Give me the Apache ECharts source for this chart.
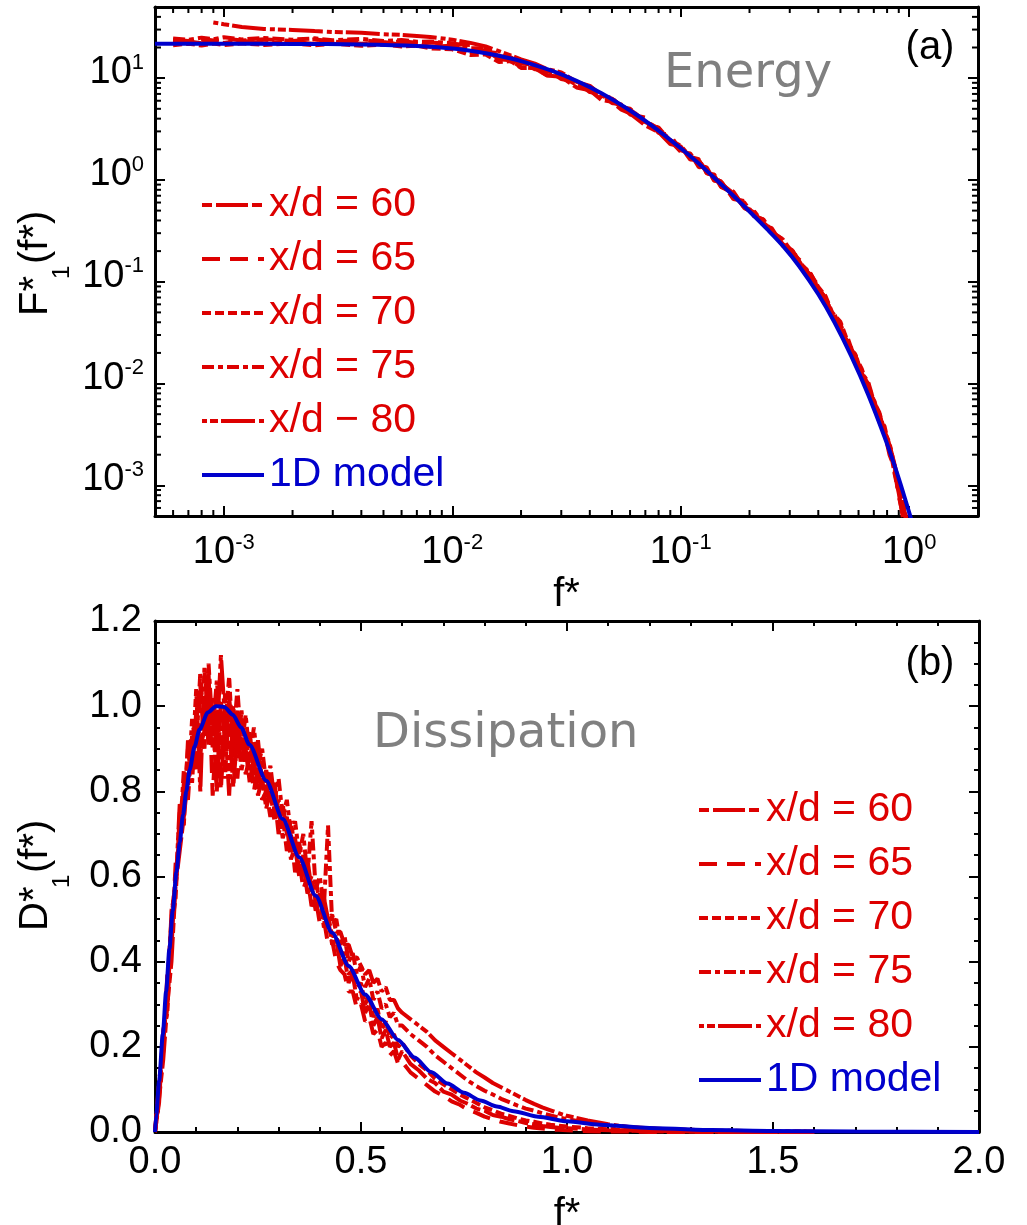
<!DOCTYPE html>
<html>
<head>
<meta charset="utf-8">
<script src="https://cdn.jsdelivr.net/npm/echarts@6/dist/echarts.min.js"></script>
<style>
  html, body { margin: 0; padding: 0; background: #fff; }
  #chart { width: 1027px; height: 1225px; }
</style>
</head>
<body>
<div id="chart"></div>
<script>
// ---------- data: (a) energy spectra, log-log ----------
const fTop = [6e-4, 7e-4, 8e-4, 9e-4, 1e-3, 1.2e-3, 1.5e-3, 2e-3, 2.5e-3, 3e-3, 4e-3, 5e-3, 6e-3, 7e-3, 8e-3,
  0.01, 0.012, 0.014, 0.016, 0.018, 0.02, 0.023, 0.026, 0.03, 0.035, 0.04, 0.045, 0.05, 0.055, 0.06, 0.07, 0.08, 0.09,
  0.1, 0.11, 0.12, 0.13, 0.14, 0.15, 0.17, 0.19, 0.21, 0.23, 0.25, 0.28, 0.31, 0.34, 0.37, 0.4, 0.43, 0.46, 0.5,
  0.54, 0.58, 0.62, 0.66, 0.7, 0.74, 0.78, 0.82, 0.86, 0.9, 0.94, 0.98];

const energy60 = [22.5, 22.9, 22.0, 23.1, 22.2, 23.3, 22.0, 22.8, 21.7, 22.9, 21.8, 22.7, 21.2, 21.8, 20.3,
  20.8, 17.9, 19.2, 15.3, 15.0, 12.8, 12.5, 10.6, 10.3, 8.1, 7.6, 6.1, 5.85, 4.9, 4.5, 3.43, 2.95, 2.25,
  2.13, 1.59, 1.57, 1.17, 1.11, 0.856, 0.77, 0.528, 0.475, 0.359, 0.336, 0.225, 0.2, 0.135, 0.118, 0.084, 0.0696, 0.0473, 0.0384,
  0.0235, 0.0192, 0.0121, 0.0101, 0.0065, 0.005, 0.0032, 0.0025, 0.00135, 0.00084, 0.00047, 0.00025];
const energy65 = [23.9, 23.2, 24.3, 23.5, 24.6, 23.4, 24.1, 23.2, 24.0, 23.0, 23.6, 22.5, 23.0, 22.2, 22.4,
  21.6, 21.1, 18.2, 17.5, 14.6, 14.6, 12.2, 12.1, 9.8, 9.2, 7.3, 7.0, 5.7, 5.5, 4.4, 4.1, 2.9, 2.75,
  1.95, 1.85, 1.33, 1.35, 1.01, 0.97, 0.65, 0.62, 0.44, 0.41, 0.306, 0.26, 0.186, 0.156, 0.11, 0.095, 0.0626, 0.054, 0.0347,
  0.0273, 0.0171, 0.0128, 0.0086, 0.0069, 0.0042, 0.0033, 0.002, 0.0015, 0.00078, 0.00051, 0.00031];
const energy70 = [21.0, 21.8, 20.9, 21.9, 21.1, 22.0, 21.2, 21.9, 21.0, 21.8, 20.8, 21.4, 20.5, 20.9, 19.6,
  19.2, 16.9, 17.1, 14.4, 14.7, 12.6, 12.6, 10.7, 10.5, 8.6, 8.1, 6.7, 6.4, 5.2, 5.0, 3.7, 3.26, 2.43,
  1.89, 1.82, 1.39, 1.33, 0.98, 0.96, 0.68, 0.6, 0.436, 0.41, 0.31, 0.26, 0.189, 0.146, 0.12, 0.089, 0.0725, 0.05, 0.0403,
  0.0252, 0.0188, 0.0139, 0.0092, 0.007, 0.0046, 0.0038, 0.0023, 0.00158, 0.001, 0.00068, 0.00043];
const energy75 = [24.5, 23.8, 25.0, 24.1, 25.2, 24.0, 24.8, 23.9, 24.6, 23.6, 24.3, 23.2, 23.7, 22.8, 22.9,
  22.0, 19.7, 19.6, 16.4, 16.1, 13.9, 13.6, 11.6, 11.1, 8.9, 8.3, 6.7, 6.3, 5.3, 4.9, 3.75, 3.22, 2.45,
  2.17, 1.68, 1.6, 1.16, 1.13, 0.92, 0.74, 0.54, 0.49, 0.38, 0.324, 0.234, 0.201, 0.143, 0.12, 0.087, 0.0684, 0.049, 0.0384,
  0.0246, 0.0195, 0.0126, 0.0105, 0.0067, 0.0052, 0.0034, 0.0026, 0.00158, 0.00095, 0.0006, 0.00031];
const energy80 = [null, null, null, 35.2, 33.9, 31.8, 30.4, 29.8, 29.0, 28.4, 27.9, 27.0, 26.6, 26.0, 25.4,
  23.9, 22.2, 20.5, 18.4, 16.7, 15.3, 13.9, 12.3, 11.4, 9.2, 8.4, 6.8, 6.2, 5.1, 4.8, 3.63, 3.1, 2.38,
  2.09, 1.63, 1.54, 1.18, 1.09, 0.86, 0.74, 0.53, 0.48, 0.37, 0.318, 0.23, 0.196, 0.138, 0.116, 0.086, 0.0696, 0.046, 0.0378,
  0.024, 0.0189, 0.0116, 0.0094, 0.0062, 0.005, 0.0034, 0.0025, 0.00165, 0.00106, 0.00068, 0.00037];

const fModelTop = [5e-4, 1e-3, 2e-3, 4e-3, 7e-3, 0.01, 0.013, 0.016, 0.02, 0.027, 0.035, 0.045, 0.06, 0.074,
  0.1, 0.12, 0.14, 0.17, 0.2, 0.24, 0.28, 0.33, 0.4, 0.47, 0.557, 0.66, 0.78, 0.86, 0.92, 1.0, 1.05];
const energyModel = [21.8, 21.75, 21.7, 21.4, 20.7, 19.6, 18.1, 16.6, 14.7, 11.9, 9.4, 7.1, 4.81, 3.48,
  2.05, 1.45, 1.05, 0.70, 0.49, 0.325, 0.225, 0.142, 0.0753, 0.0402, 0.0187, 0.00787, 0.00299, 0.0016, 0.001, 0.00054, 0.00037];

// minor tick positions of the log axes (2..9 of each decade)
const xMinorTop = [6e-4, 7e-4, 8e-4, 9e-4, 2e-3, 3e-3, 4e-3, 5e-3, 6e-3, 7e-3, 8e-3, 9e-3,
  0.02, 0.03, 0.04, 0.05, 0.06, 0.07, 0.08, 0.09, 0.2, 0.3, 0.4, 0.5, 0.6, 0.7, 0.8, 0.9];
const yMinorTop = [6e-4, 7e-4, 8e-4, 9e-4, 2e-3, 3e-3, 4e-3, 5e-3, 6e-3, 7e-3, 8e-3, 9e-3,
  0.02, 0.03, 0.04, 0.05, 0.06, 0.07, 0.08, 0.09, 0.2, 0.3, 0.4, 0.5, 0.6, 0.7, 0.8, 0.9,
  2, 3, 4, 5, 6, 7, 8, 9, 20, 30, 40];

// ---------- data: (b) dissipation spectra, linear ----------
const fBot = [0, 0.01, 0.02, 0.03, 0.04, 0.05, 0.06, 0.07, 0.08, 0.09,
  0.10, 0.11, 0.12, 0.13, 0.14, 0.15, 0.16, 0.17, 0.18, 0.19,
  0.20, 0.21, 0.22, 0.23, 0.24, 0.25, 0.26, 0.27, 0.28, 0.29,
  0.30, 0.31, 0.32, 0.33, 0.34, 0.35, 0.36, 0.37, 0.38, 0.39,
  0.40, 0.41, 0.42, 0.43, 0.44, 0.45, 0.46, 0.47, 0.48, 0.49,
  0.50, 0.51, 0.52, 0.53, 0.54, 0.55, 0.56, 0.57, 0.58, 0.59,
  0.60,
  0.62, 0.64, 0.66, 0.68, 0.70, 0.72, 0.74, 0.76, 0.78, 0.80,
  0.82, 0.84, 0.86, 0.88, 0.90, 0.92, 0.94, 0.96, 0.98, 1.00,
  1.05, 1.10, 1.15, 1.20, 1.25, 1.30, 1.35, 1.40, 1.45, 1.50, 1.55, 1.60];

const diss60 = [0, 0.08, 0.17, 0.30, 0.40, 0.58, 0.66, 0.74, 0.83, 0.86,
  0.95, 0.88, 1.02, 0.91, 0.98, 0.80, 1.01, 0.92, 0.96, 0.81,
  0.94, 0.85, 0.90, 0.82, 0.87, 0.79, 0.83, 0.76, 0.80, 0.73,
  0.76, 0.69, 0.72, 0.64, 0.67, 0.60, 0.63, 0.56, 0.58, 0.52,
  0.55, 0.48, 0.50, 0.44, 0.45, 0.39, 0.41, 0.35, 0.37, 0.31,
  0.33, 0.28, 0.30, 0.25, 0.27, 0.22, 0.24, 0.20, 0.21, 0.17,
  0.19,
  0.16, 0.145, 0.125, 0.115, 0.095, 0.088, 0.074, 0.066, 0.055, 0.05,
  0.04, 0.036, 0.03, 0.026, 0.021, 0.018, 0.014, 0.012, 0.01, 0.009,
  0.006, 0.004, 0.003, 0.002, 0.001, 0.001, 0, 0, 0, 0, 0, 0];
const diss65 = [0, 0.12, 0.20, 0.37, 0.43, 0.63, 0.68, 0.82, 0.78, 0.93,
  0.84, 1.05, 0.90, 1.08, 0.79, 0.97, 0.80, 1.03, 0.90, 0.93,
  0.83, 0.96, 0.84, 0.88, 0.80, 0.86, 0.78, 0.80, 0.74, 0.79,
  0.70, 0.74, 0.66, 0.70, 0.61, 0.64, 0.57, 0.60, 0.53, 0.55,
  0.49, 0.50, 0.44, 0.45, 0.40, 0.38, 0.37, 0.33, 0.33, 0.29,
  0.30, 0.26, 0.27, 0.23, 0.24, 0.20, 0.21, 0.18, 0.19, 0.16,
  0.165,
  0.14, 0.125, 0.11, 0.095, 0.085, 0.072, 0.064, 0.052, 0.045, 0.036,
  0.03, 0.024, 0.02, 0.016, 0.013, 0.01, 0.008, 0.006, 0.005, 0.004,
  0.002, 0.001, 0.001, 0, 0, 0, 0, 0, 0, 0, 0, 0];
const diss70 = [0, 0.09, 0.23, 0.31, 0.48, 0.55, 0.75, 0.76, 0.90, 0.82,
  0.99, 0.91, 0.94, 1.06, 0.90, 1.04, 0.82, 0.95, 1.07, 0.88,
  0.99, 0.87, 0.93, 0.85, 0.91, 0.83, 0.87, 0.79, 0.84, 0.75,
  0.78, 0.72, 0.74, 0.67, 0.69, 0.62, 0.65, 0.58, 0.60, 0.54,
  0.56, 0.50, 0.51, 0.46, 0.46, 0.42, 0.42, 0.37, 0.38, 0.34,
  0.35, 0.30, 0.32, 0.27, 0.29, 0.24, 0.26, 0.22, 0.23, 0.20,
  0.21,
  0.18, 0.16, 0.145, 0.125, 0.112, 0.10, 0.088, 0.078, 0.068, 0.058,
  0.051, 0.043, 0.038, 0.032, 0.027, 0.024, 0.02, 0.017, 0.015, 0.013,
  0.009, 0.006, 0.004, 0.003, 0.002, 0.001, 0.001, 0, 0, 0, 0, 0];
const diss75 = [0, 0.11, 0.19, 0.35, 0.50, 0.60, 0.69, 0.85, 0.80, 0.97,
  0.90, 1.08, 0.93, 1.10, 0.94, 1.06, 0.95, 0.83, 1.02, 0.92,
  1.04, 0.90, 0.98, 0.88, 0.95, 0.86, 0.90, 0.82, 0.86, 0.78,
  0.83, 0.74, 0.78, 0.70, 0.73, 0.65, 0.70, 0.60, 0.73, 0.57,
  0.60, 0.53, 0.72, 0.49, 0.50, 0.44, 0.46, 0.40, 0.42, 0.37,
  0.39, 0.34, 0.36, 0.31, 0.33, 0.29, 0.30, 0.27, 0.28, 0.25,
  0.25,
  0.23, 0.215, 0.2, 0.18, 0.165, 0.15, 0.135, 0.12, 0.108, 0.097,
  0.088, 0.078, 0.07, 0.062, 0.055, 0.05, 0.044, 0.039, 0.034, 0.03,
  0.022, 0.015, 0.011, 0.008, 0.006, 0.004, 0.003, 0.002, 0.002, 0.001, 0.001, 0];
const diss80 = [0, 0.07, 0.24, 0.28, 0.52, 0.57, 0.77, 0.72, 0.92, 0.86,
  1.04, 0.80, 1.09, 0.95, 1.02, 0.92, 1.12, 0.97, 0.79, 1.00,
  0.89, 0.99, 0.87, 0.94, 0.84, 0.92, 0.82, 0.85, 0.78, 0.82,
  0.74, 0.77, 0.70, 0.73, 0.66, 0.68, 0.62, 0.64, 0.57, 0.59,
  0.54, 0.55, 0.50, 0.51, 0.47, 0.47, 0.44, 0.44, 0.41, 0.41,
  0.39, 0.37, 0.38, 0.35, 0.36, 0.33, 0.34, 0.31, 0.31, 0.29,
  0.28,
  0.265, 0.25, 0.235, 0.215, 0.2, 0.185, 0.17, 0.155, 0.14, 0.128,
  0.115, 0.105, 0.095, 0.085, 0.075, 0.066, 0.058, 0.051, 0.044, 0.038,
  0.027, 0.018, 0.012, 0.009, 0.006, 0.005, 0.003, 0.003, 0.002, 0.002, 0.001, 0.001];

const fModelBot = [0, 0.003, 0.01, 0.019, 0.027, 0.035, 0.043, 0.052, 0.06, 0.068, 0.076, 0.084, 0.096, 0.108,
  0.128, 0.148, 0.168, 0.189, 0.209, 0.229, 0.27, 0.31, 0.35, 0.39, 0.43, 0.47, 0.51, 0.55, 0.59, 0.63,
  0.67, 0.71, 0.75, 0.79, 0.83, 0.87, 0.93, 1.0, 1.08, 1.2, 1.35, 1.5, 1.7, 2.0];
const dissModel = [0, 0.04, 0.12, 0.23, 0.33, 0.43, 0.52, 0.61, 0.68, 0.745, 0.8, 0.85, 0.905, 0.945,
  0.985, 1.0, 0.998, 0.98, 0.95, 0.91, 0.825, 0.735, 0.645, 0.555, 0.468, 0.39, 0.323, 0.265, 0.216, 0.175,
  0.141, 0.114, 0.092, 0.074, 0.06, 0.049, 0.036, 0.025, 0.017, 0.0095, 0.0045, 0.0022, 0.0009, 0.0002];

const namesTop = ['x/d = 60', 'x/d = 65', 'x/d = 70', 'x/d = 75', 'x/d \u2212 80'];
const namesBot = ['x/d = 60', 'x/d = 65', 'x/d = 70', 'x/d = 75', 'x/d = 80'];
const modelName = '1D model';

// ---------- styling ----------
const RED = '#dd0000';
const BLUE = '#0000cc';
const FONT = '"Liberation Sans", Arial, sans-serif';
const DASHES = [[10, 4, 32, 4], [18, 10], [9, 4], [12, 4, 5, 4], [5, 3, 8, 3, 34, 4]];

const powRich = {
  b: { fontFamily: FONT, fontSize: 38, lineHeight: 40, color: '#000', verticalAlign: 'bottom' },
  s: { fontFamily: FONT, fontSize: 22, lineHeight: 22, color: '#000', verticalAlign: 'top' }
};
function powLabel(v) {
  const e = Math.round(Math.log10(v));
  return '{b|10}{s|' + e + '}';
}

function frame(extra) {
  return Object.assign({
    axisLine: { show: true, onZero: false, lineStyle: { color: '#000', width: 3 } },
    axisTick: { show: true, inside: true, length: 10, lineStyle: { color: '#000', width: 2 } },
    splitLine: { show: false },
    axisLabel: { show: false }
  }, extra);
}

function redSeries(names, values, xs, xi, yi) {
  return names.map((n, k) => ({
    type: 'line', name: n, xAxisIndex: xi, yAxisIndex: yi,
    symbol: 'none', showSymbol: false, silent: true, z: 2,
    data: xs.map((x, i) => [x, values[k][i]]).filter(p => p[1] != null),
    lineStyle: { color: RED, width: 4, type: DASHES[k], cap: 'butt' },
    itemStyle: { color: RED }
  }));
}

// short inner ticks for the log decades, on both edges of the frame
function minorTicks(vals, dir) {
  return {
    type: 'custom', xAxisIndex: 0, yAxisIndex: 0, silent: true, z: 1,
    data: vals.map(v => dir === 'x' ? [v, 1] : [0.01, v]),
    renderItem(params, api) {
      const cs = params.coordSys;
      const p = api.coord([api.value(0), api.value(1)]);
      const st = { stroke: '#000', lineWidth: 2 };
      if (dir === 'x') {
        const b = cs.y + cs.height, t = cs.y;
        return { type: 'group', children: [
          { type: 'line', shape: { x1: p[0], y1: b, x2: p[0], y2: b - 6 }, style: st },
          { type: 'line', shape: { x1: p[0], y1: t, x2: p[0], y2: t + 6 }, style: st }
        ] };
      }
      const l = cs.x, r = cs.x + cs.width;
      return { type: 'group', children: [
        { type: 'line', shape: { x1: l, y1: p[1], x2: l + 6, y2: p[1] }, style: st },
        { type: 'line', shape: { x1: r, y1: p[1], x2: r - 6, y2: p[1] }, style: st }
      ] };
    }
  };
}

function legendData(names) {
  return names.map(n => ({ name: n, textStyle: { color: RED } }))
    .concat([{ name: modelName, textStyle: { color: BLUE } }]);
}
function legendBox(names, left, top) {
  return {
    data: legendData(names), orient: 'vertical', left: left, top: top,
    padding: 0, itemWidth: 62, itemHeight: 2, itemGap: 2, selectedMode: false,
    itemStyle: { opacity: 0 },
    lineStyle: { width: 4 },
    textStyle: { fontFamily: FONT, fontSize: 41, lineHeight: 40, padding: [12, 0, 0, 0], color: RED }
  };
}

const titleFont = '40px ' + FONT;
const subFont = '24px ' + FONT;
const grayFont = '48px "DejaVu Sans", sans-serif';

const option = {
  animation: false,
  backgroundColor: '#fff',
  grid: [
    { left: 155, top: 7, width: 823, height: 509, containLabel: false, outerBoundsMode: 'none' },
    { left: 155, top: 621, width: 824, height: 511, containLabel: false, outerBoundsMode: 'none' }
  ],
  xAxis: [
    frame({ type: 'log', logBase: 10, gridIndex: 0, position: 'bottom', min: 5e-4, max: 2,
      axisLabel: { show: true, interval: 0, margin: 16, showMinLabel: false, showMaxLabel: false,
        formatter: powLabel, rich: powRich },
      name: 'f*', nameLocation: 'middle', nameGap: 59,
      nameTextStyle: { fontFamily: FONT, fontSize: 40, lineHeight: 40, color: '#000' } }),
    frame({ type: 'log', logBase: 10, gridIndex: 0, position: 'top', min: 5e-4, max: 2 }),
    frame({ type: 'value', gridIndex: 1, position: 'bottom', min: 0, max: 2, interval: 0.5,
      minorTick: { show: true, splitNumber: 5, length: 5, lineStyle: { color: '#000', width: 2 } },
      axisLabel: { show: true, margin: 11, formatter: v => v.toFixed(1),
        fontFamily: FONT, fontSize: 38, lineHeight: 40, color: '#000' },
      name: 'f*', nameLocation: 'middle', nameGap: 63,
      nameTextStyle: { fontFamily: FONT, fontSize: 40, lineHeight: 40, color: '#000' } }),
    frame({ type: 'value', gridIndex: 1, position: 'top', min: 0, max: 2, interval: 0.5,
      minorTick: { show: true, splitNumber: 5, length: 5, lineStyle: { color: '#000', width: 2 } } })
  ],
  yAxis: [
    frame({ type: 'log', logBase: 10, gridIndex: 0, position: 'left', min: 5e-4, max: 50,
      axisLabel: { show: true, interval: 0, margin: 11, showMinLabel: false, showMaxLabel: false,
        padding: [0, 0, 13, 0], formatter: powLabel, rich: powRich } }),
    frame({ type: 'log', logBase: 10, gridIndex: 0, position: 'right', min: 5e-4, max: 50 }),
    frame({ type: 'value', gridIndex: 1, position: 'left', min: 0, max: 1.2, interval: 0.2,
      minorTick: { show: true, splitNumber: 4, length: 5, lineStyle: { color: '#000', width: 2 } },
      axisLabel: { show: true, margin: 13, padding: [0, 0, 7, 0], formatter: v => v.toFixed(1),
        fontFamily: FONT, fontSize: 38, color: '#000' } }),
    frame({ type: 'value', gridIndex: 1, position: 'right', min: 0, max: 1.2, interval: 0.2,
      minorTick: { show: true, splitNumber: 4, length: 5, lineStyle: { color: '#000', width: 2 } } })
  ],
  legend: [legendBox(namesTop, 200, 179), legendBox(namesBot, 697, 784)],
  series: [].concat(
    redSeries(namesTop, [energy60, energy65, energy70, energy75, energy80], fTop, 0, 0),
    [{
      type: 'line', name: modelName, xAxisIndex: 0, yAxisIndex: 0, symbol: 'none', silent: true, z: 3,
      smooth: 0.3, data: fModelTop.map((x, i) => [x, energyModel[i]]),
      lineStyle: { color: BLUE, width: 4 }, itemStyle: { color: BLUE }
    }],
    [minorTicks(xMinorTop, 'x'), minorTicks(yMinorTop, 'y')],
    redSeries(namesBot, [diss60, diss65, diss70, diss75, diss80], fBot, 2, 2),
    [{
      type: 'line', name: modelName, xAxisIndex: 2, yAxisIndex: 2, symbol: 'none', silent: true, z: 3,
      smooth: 0.25, smoothMonotone: 'x', data: fModelBot.map((x, i) => [x, dissModel[i]]),
      lineStyle: { color: BLUE, width: 4 }, itemStyle: { color: BLUE }
    }]
  ),
  graphic: [
    { type: 'text', x: 664, y: 75, style: { text: 'Energy', font: grayFont, fill: '#808080', verticalAlign: 'middle' } },
    { type: 'text', x: 373, y: 735, style: { text: 'Dissipation', font: grayFont, fill: '#808080', verticalAlign: 'middle' } },
    { type: 'text', x: 930, y: 48, style: { text: '(a)', font: titleFont, fill: '#000', align: 'center', verticalAlign: 'middle' } },
    { type: 'text', x: 930, y: 664, style: { text: '(b)', font: titleFont, fill: '#000', align: 'center', verticalAlign: 'middle' } },
    // vertical axis titles with a subscript
    { type: 'text', x: 36, y: 316, rotation: Math.PI / 2, style: { text: 'F*', font: titleFont, fill: '#000', align: 'left', verticalAlign: 'middle' } },
    { type: 'text', x: 62, y: 279, rotation: Math.PI / 2, style: { text: '1', font: subFont, fill: '#000', align: 'left', verticalAlign: 'middle' } },
    { type: 'text', x: 36, y: 264, rotation: Math.PI / 2, style: { text: '(f*)', font: titleFont, fill: '#000', align: 'left', verticalAlign: 'middle' } },
    { type: 'text', x: 36, y: 931, rotation: Math.PI / 2, style: { text: 'D*', font: titleFont, fill: '#000', align: 'left', verticalAlign: 'middle' } },
    { type: 'text', x: 62, y: 888, rotation: Math.PI / 2, style: { text: '1', font: subFont, fill: '#000', align: 'left', verticalAlign: 'middle' } },
    { type: 'text', x: 36, y: 873, rotation: Math.PI / 2, style: { text: '(f*)', font: titleFont, fill: '#000', align: 'left', verticalAlign: 'middle' } }
  ]
};

const chart = echarts.init(document.getElementById('chart'), null, { renderer: 'canvas' });
chart.setOption(option);
</script>
</body>
</html>
